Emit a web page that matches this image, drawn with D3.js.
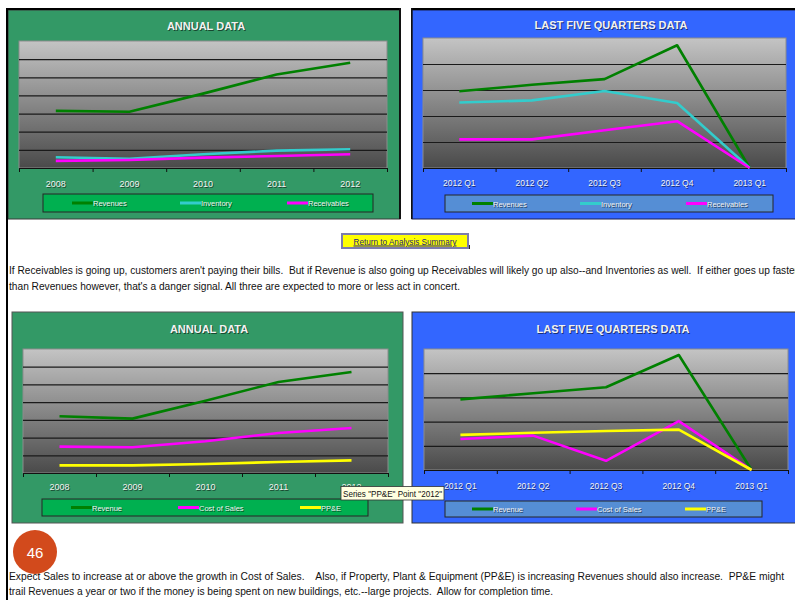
<!DOCTYPE html>
<html lang="en">
  <head>
    <meta charset="utf-8">
    <title>Annual and Quarterly Data</title>
    <script src="https://cdn.jsdelivr.net/npm/d3@7"></script>
    <style>
      body { margin: 0; background: #fff; }
      svg text { font-family: "Liberation Sans", Arial, sans-serif; }
      .para { font-family: "Liberation Sans Narrow", "Liberation Sans", Arial, sans-serif; font-size: 10.5px; fill: #111; white-space: pre; }
      .grid line { stroke: #1a1a1a; stroke-width: 1.2px; }
      .grid path { display: none; }
      .xaxis path, .xaxis line { stroke: #111; }
    </style>
  </head>
  <body>
    <svg id="page" width="795" height="600"></svg>
    <script>
      // ---- data (units are arbitrary, no value axis shown) ----
      var years = ["2008", "2009", "2010", "2011", "2012"];
      var quarters = ["2012 Q1", "2012 Q2", "2012 Q3", "2012 Q4", "2013 Q1"];

      var yrRevenues    = [3.15, 3.10, 4.10, 5.15, 5.80];
      var yrInventory   = [0.59, 0.51, 0.76, 0.96, 1.03];
      var yrReceivables = [0.39, 0.44, 0.57, 0.66, 0.76];

      var qtRevenues    = [2.95, 3.20, 3.42, 4.72, 0];
      var qtInventory   = [2.52, 2.60, 2.96, 2.50, 0];
      var qtReceivables = [1.10, 1.10, 1.45, 1.80, 0];

      var yrRevenue     = [3.20, 3.07, 4.08, 5.14, 5.70];
      var yrCostOfSales = [1.49, 1.45, 1.79, 2.26, 2.54];
      var yrPPE         = [0.43, 0.43, 0.51, 0.62, 0.71];

      var qtRevenue     = [2.92, 3.17, 3.42, 4.75, 0];
      var qtCostOfSales = [1.28, 1.42, 0.38, 2.02, 0];
      var qtPPE         = [1.45, 1.54, 1.61, 1.67, 0];

      var GREEN = "#008000", CYAN = "#33cccc", MAGENTA = "#ff00ff", YELLOW = "#ffff00";

      var svg = d3.select("#page");

      var defs = svg.append("defs");
      var grad = defs.append("linearGradient").attr("id", "plotbg")
          .attr("x1", 0).attr("y1", 0).attr("x2", 0).attr("y2", 1);
      grad.append("stop").attr("offset", "0%").attr("stop-color", "#c4c4c4");
      grad.append("stop").attr("offset", "100%").attr("stop-color", "#4a4a4a");

      // text with the light-on-dark shadow the charts use
      function shadowText(g, x, y, str, size, weight, anchor) {
        g.append("text").attr("x", x + 1).attr("y", y + 1)
          .attr("text-anchor", anchor).style("font-size", size + "px").style("font-weight", weight)
          .attr("fill", "rgba(0,0,0,0.55)").text(str);
        g.append("text").attr("x", x).attr("y", y)
          .attr("text-anchor", anchor).style("font-size", size + "px").style("font-weight", weight)
          .attr("fill", "#f2f2f2").text(str);
      }

      function drawChart(c) {
        var g = svg.append("g");

        g.append("rect").attr("x", c.panel[0]).attr("y", c.panel[1])
          .attr("width", c.panel[2]).attr("height", c.panel[3])
          .attr("fill", c.bg).attr("stroke", c.edge).attr("stroke-width", 1);

        shadowText(g, c.titleX, c.titleY, c.title, 11, "bold", "middle");

        var x0 = c.plot[0], y0 = c.plot[1], x1 = c.plot[2], y1 = c.plot[3];

        g.append("rect").attr("x", x0).attr("y", y0)
          .attr("width", x1 - x0).attr("height", y1 - y0)
          .attr("fill", "url(#plotbg)").attr("stroke", "#8c8c8c");

        var x = d3.scaleBand().domain(c.cats).range([x0, x1]);
        var xEdge = d3.scaleLinear().domain([0, c.cats.length]).range([x0, x1]);
        var y = d3.scaleLinear().domain([0, c.yMax]).range([y1, y0]);

        g.append("g").attr("class", "grid")
          .attr("transform", "translate(" + x0 + ",0)")
          .call(d3.axisLeft(y).tickValues(d3.range(1, c.yMax)).tickSize(-(x1 - x0)).tickFormat(""));

        g.append("g").attr("class", "xaxis")
          .attr("transform", "translate(0," + y1 + ")")
          .call(d3.axisBottom(xEdge).tickValues(d3.range(0, c.cats.length + 1))
            .tickSize(4).tickSizeOuter(0).tickFormat(""));

        c.cats.forEach(function(cat) {
          shadowText(g, x(cat) + x.bandwidth() / 2, c.labelY, cat, c.labelSize, "normal", "middle");
        });

        var line = d3.line()
          .x(function(d, i) { return x(c.cats[i]) + x.bandwidth() / 2; })
          .y(function(d) { return y(d); });

        c.series.forEach(function(s) {
          g.append("path").datum(s.values)
            .attr("d", line).attr("fill", "none")
            .attr("stroke", s.color).attr("stroke-width", 2.6)
            .attr("stroke-linejoin", "round");
        });

        // legend
        var L = c.legend;
        g.append("rect").attr("x", L[0]).attr("y", L[1]).attr("width", L[2]).attr("height", L[3])
          .attr("fill", c.legendFill).attr("stroke", "#262626").attr("stroke-width", 1);
        var ly = L[1] + L[3] / 2;
        c.series.forEach(function(s, i) {
          var lx = c.legendX[i];
          g.append("line").attr("x1", lx).attr("x2", lx + 21).attr("y1", ly).attr("y2", ly)
            .attr("stroke", s.color).attr("stroke-width", 3);
          shadowText(g, lx + 21, ly + 3, s.name, 7.5, "normal", "start");
        });
      }

      drawChart({
        panel: [8, 10, 392, 209], bg: "#339966", edge: "#3a3a3a",
        title: "ANNUAL DATA", titleX: 206, titleY: 30,
        plot: [19, 41, 387, 168], yMax: 7, cats: years,
        labelY: 186.5, labelSize: 9,
        series: [
          { name: "Revenues", values: yrRevenues, color: GREEN },
          { name: "Inventory", values: yrInventory, color: CYAN },
          { name: "Receivables", values: yrReceivables, color: MAGENTA }
        ],
        legend: [43, 194, 330, 18], legendFill: "#00b050", legendX: [72, 180, 287]
      });

      drawChart({
        panel: [412, 10, 392, 209], bg: "#3366ff", edge: "#1b1f4d",
        title: "LAST FIVE QUARTERS DATA", titleX: 611, titleY: 29,
        plot: [423, 38, 786, 168], yMax: 5, cats: quarters,
        labelY: 186, labelSize: 8.5,
        series: [
          { name: "Revenues", values: qtRevenues, color: GREEN },
          { name: "Inventory", values: qtInventory, color: CYAN },
          { name: "Receivables", values: qtReceivables, color: MAGENTA }
        ],
        legend: [445, 195, 328, 17], legendFill: "#558ed5", legendX: [472, 580, 686]
      });

      drawChart({
        panel: [12, 312, 391, 211], bg: "#339966", edge: "#555",
        title: "ANNUAL DATA", titleX: 209, titleY: 333,
        plot: [23, 349, 388, 473], yMax: 7, cats: years,
        labelY: 490, labelSize: 9,
        series: [
          { name: "Revenue", values: yrRevenue, color: GREEN },
          { name: "Cost of Sales", values: yrCostOfSales, color: MAGENTA },
          { name: "PP&E", values: yrPPE, color: YELLOW }
        ],
        legend: [42, 499, 326, 17], legendFill: "#00b050", legendX: [71, 178, 300]
      });

      drawChart({
        panel: [412, 312, 392, 211], bg: "#3366ff", edge: "#333",
        title: "LAST FIVE QUARTERS DATA", titleX: 613, titleY: 333,
        plot: [424, 349, 788, 470], yMax: 5, cats: quarters,
        labelY: 488.5, labelSize: 8.5,
        series: [
          { name: "Revenue", values: qtRevenue, color: GREEN },
          { name: "Cost of Sales", values: qtCostOfSales, color: MAGENTA },
          { name: "PP&E", values: qtPPE, color: YELLOW }
        ],
        legend: [445, 501, 317, 16], legendFill: "#558ed5", legendX: [472, 576, 685]
      });

      // page frame: black bar on the left and across the top
      svg.append("rect").attr("x", 6).attr("y", 8).attr("width", 2).attr("height", 592).attr("fill", "#000");
      svg.append("rect").attr("x", 6).attr("y", 8).attr("width", 395).attr("height", 2).attr("fill", "#000");
      svg.append("rect").attr("x", 399).attr("y", 8).attr("width", 2).attr("height", 211).attr("fill", "#111");
      svg.append("rect").attr("x", 411).attr("y", 8).attr("width", 384).attr("height", 2).attr("fill", "#000");
      svg.append("rect").attr("x", 411).attr("y", 8).attr("width", 1.5).attr("height", 211).attr("fill", "#111");

      // button
      var btn = svg.append("g");
      btn.append("rect").attr("x", 466).attr("y", 245).attr("width", 4).attr("height", 4).attr("fill", "#222");
      btn.append("rect").attr("x", 342).attr("y", 234).attr("width", 126).attr("height", 14)
        .attr("fill", "#ffff00").attr("stroke", "#7c7cae").attr("stroke-width", 2);
      btn.append("text").attr("x", 405).attr("y", 244.5).attr("text-anchor", "middle")
        .attr("textLength", 103).attr("lengthAdjust", "spacingAndGlyphs")
        .style("font-size", "9.5px").style("text-decoration", "underline")
        .attr("fill", "#1c1c80").text("Return to Analysis Summary");

      // explanatory paragraphs
      var paraLines = [
        { t: "If Receivables is going up, customers aren't paying their bills.  But if Revenue is also going up Receivables will likely go up also--and Inventories as well.  If either goes up faster", y: 274, w: 789 },
        { t: "than Revenues however, that's a danger signal. All three are expected to more or less act in concert.", y: 290, w: 451 },
        { t: "Expect Sales to increase at or above the growth in Cost of Sales.    Also, if Property, Plant & Equipment (PP&E) is increasing Revenues should also increase.  PP&E might", y: 580, w: 775 },
        { t: "trail Revenues a year or two if the money is being spent on new buildings, etc.--large projects.  Allow for completion time.", y: 595, w: 544 }
      ];
      paraLines.forEach(function(p) {
        svg.append("text").attr("class", "para").attr("x", 9).attr("y", p.y)
          .attr("textLength", p.w).attr("lengthAdjust", "spacingAndGlyphs").text(p.t);
      });

      // page number badge
      svg.append("circle").attr("cx", 35).attr("cy", 552).attr("r", 22).attr("fill", "#d24a1c");
      svg.append("text").attr("x", 35).attr("y", 557.5).attr("text-anchor", "middle")
        .style("font-size", "15px").attr("fill", "#fff").text("46");

      // hover tooltip left on the picture
      var tip = svg.append("g");
      tip.append("rect").attr("x", 341).attr("y", 486.5).attr("width", 103).attr("height", 13.5)
        .attr("fill", "#ffffe1").attr("stroke", "#333").attr("stroke-width", 0.8);
      tip.append("text").attr("x", 343).attr("y", 497).attr("textLength", 99).attr("lengthAdjust", "spacingAndGlyphs")
        .style("font-size", "9px").attr("fill", "#111").text("Series \"PP&E\" Point \"2012\"");
    </script>
  </body>
</html>
